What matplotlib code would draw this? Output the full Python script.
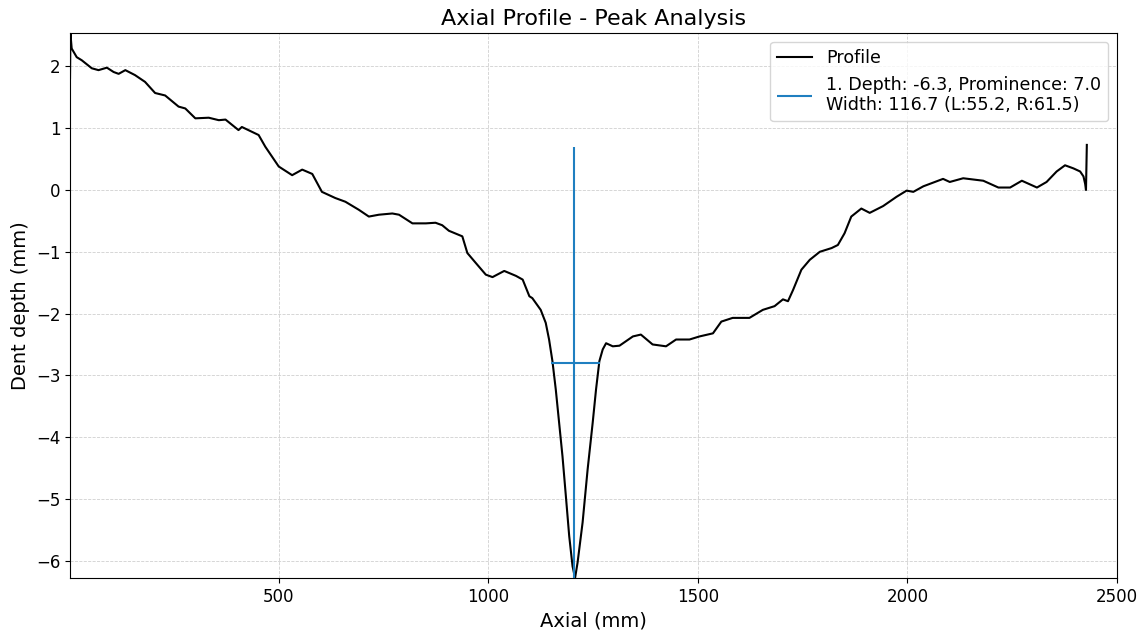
import numpy as np
import matplotlib
matplotlib.use('Agg')
import matplotlib.pyplot as plt

# profile
axial = [2, 3, 4, 6, 18, 30, 54, 70, 90, 106, 118, 134, 157, 181, 205, 229, 261, 277,
         301, 333, 357, 373, 404, 412, 452, 468, 500, 532, 556, 580, 603, 635, 659,
         691, 715, 739, 771, 787, 819, 851, 874, 890, 906, 938, 950, 970, 994, 1010,
         1038, 1066, 1082, 1098, 1105, 1125, 1137, 1145, 1153, 1161, 1169, 1177, 1185,
         1193, 1201, 1207, 1213, 1225, 1237, 1249, 1257, 1265, 1273, 1281, 1297, 1313,
         1345, 1364, 1392, 1424, 1448, 1480, 1504, 1536, 1556, 1583, 1623, 1655, 1683,
         1703, 1715, 1727, 1747, 1767, 1791, 1819, 1834, 1850, 1866, 1890, 1910, 1942,
         1974, 1998, 2014, 2038, 2085, 2101, 2133, 2181, 2217, 2245, 2273, 2309, 2332,
         2356, 2376, 2396, 2412, 2420, 2424, 2426, 2428]
depth = [1.81, 2.54, 2.45, 2.29, 2.15, 2.10, 1.97, 1.94, 1.98, 1.91, 1.88, 1.94, 1.86,
         1.75, 1.57, 1.53, 1.35, 1.32, 1.16, 1.17, 1.13, 1.14, 0.97, 1.02, 0.89, 0.70,
         0.38, 0.24, 0.33, 0.26, -0.03, -0.13, -0.19, -0.32, -0.43, -0.40, -0.38, -0.40,
         -0.54, -0.54, -0.53, -0.57, -0.66, -0.75, -1.02, -1.18, -1.37, -1.41, -1.31,
         -1.39, -1.45, -1.72, -1.75, -1.94, -2.15, -2.42, -2.77, -3.23, -3.77, -4.31,
         -4.95, -5.60, -6.09, -6.28, -6.03, -5.38, -4.52, -3.77, -3.23, -2.77, -2.58,
         -2.48, -2.53, -2.52, -2.37, -2.34, -2.50, -2.53, -2.42, -2.42, -2.37, -2.32,
         -2.13, -2.07, -2.07, -1.94, -1.88, -1.77, -1.80, -1.62, -1.29, -1.13, -1.00,
         -0.94, -0.89, -0.70, -0.43, -0.30, -0.37, -0.26, -0.11, -0.01, -0.03, 0.06,
         0.18, 0.13, 0.19, 0.15, 0.04, 0.04, 0.15, 0.04, 0.13, 0.30, 0.40, 0.35, 0.30,
         0.22, 0.10, 0.00, 0.73]

# peak result
peak_x = 1205.0
peak_depth = -6.3
prominence = 7.0
width = 116.7
width_left = 55.2
width_right = 61.5

fig = plt.figure(figsize=(11.44, 6.36), dpi=100)
ax = fig.add_axes([0.0612, 0.0912, 0.9152, 0.8568])

ax.plot(axial, depth, color='black', linewidth=1.5, label='Profile')

lbl = '1. Depth: %.1f, Prominence: %.1f\nWidth: %.1f (L:%.1f, R:%.1f)' % (
    peak_depth, prominence, width, width_left, width_right)
ax.vlines(peak_x, peak_depth, peak_depth + prominence, color='#1f7fc0',
          linewidth=1.5, label=lbl)
ax.hlines(peak_depth + prominence / 2, peak_x - width_left, peak_x + width_right,
          color='#1f7fc0', linewidth=1.5)

ax.set_xlim(min(axial), 2500)
ax.set_ylim(min(depth), max(depth))
ax.set_title('Axial Profile - Peak Analysis', fontsize=16)
ax.set_xlabel('Axial (mm)', fontsize=14)
ax.set_ylabel('Dent depth (mm)', fontsize=14)
ax.tick_params(labelsize=12)
ax.grid(True, linestyle='--', linewidth=0.6, alpha=0.6)
ax.legend(loc='upper right', fontsize=12.6)

fig.savefig('out.png', dpi=100)
